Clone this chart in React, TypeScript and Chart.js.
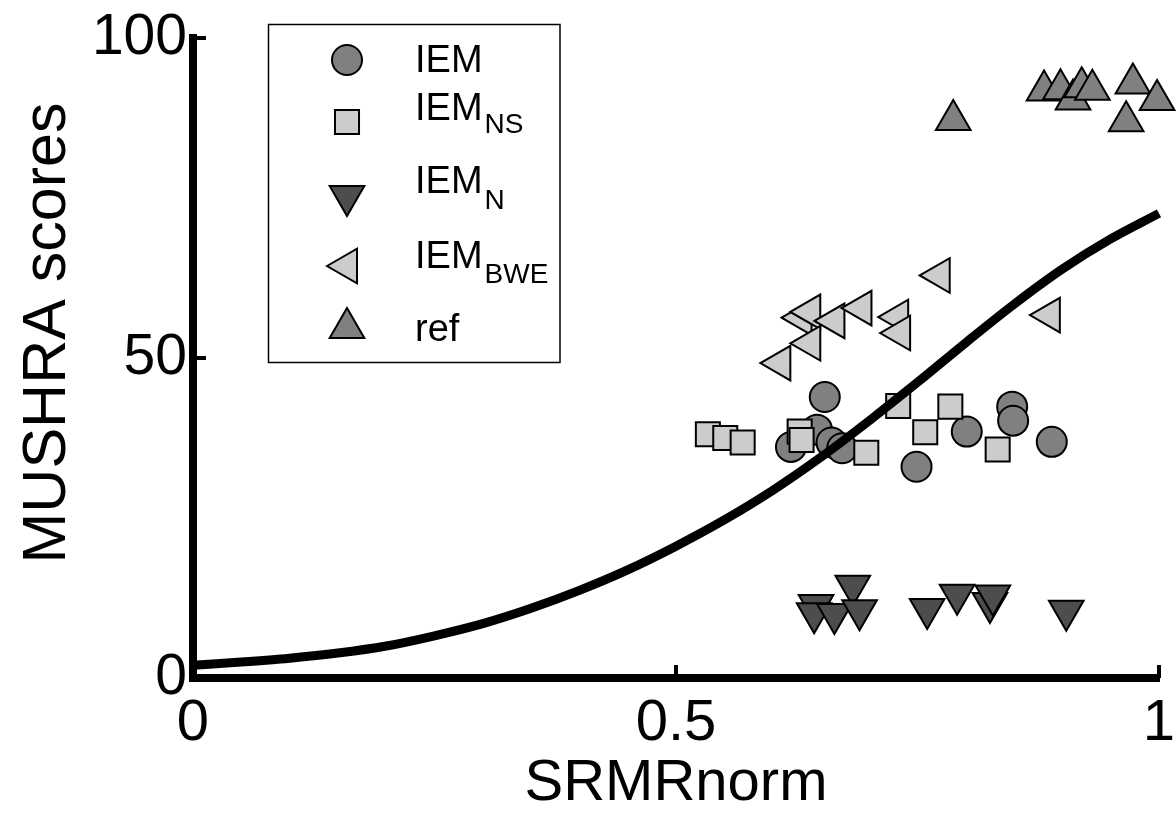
import React, { useEffect, useRef } from 'react';
import { Chart, registerables } from 'chart.js';

Chart.register(...registerables);

// ---------- data ----------
const curveX = [0, 0.05, 0.1, 0.15, 0.2, 0.25, 0.3, 0.35, 0.4, 0.45, 0.5, 0.55, 0.6, 0.65, 0.7, 0.75, 0.8, 0.85, 0.9, 0.95, 1.0];
const curveY = [2.0, 2.5, 3.1, 3.9, 5.0, 6.6, 8.5, 10.9, 13.7, 16.9, 20.6, 24.7, 29.3, 34.5, 40.2, 46.2, 52.4, 58.4, 63.9, 68.6, 72.6];

const iemX = [0.654, 0.646, 0.619, 0.661, 0.672, 0.749, 0.801, 0.848, 0.849, 0.889];
const iemY = [43.9, 38.8, 36.1, 36.8, 35.9, 33.0, 38.5, 42.4, 40.2, 36.9];

const iemNsX = [0.533, 0.551, 0.569, 0.628, 0.630, 0.697, 0.730, 0.758, 0.784, 0.833];
const iemNsY = [38.1, 37.5, 36.8, 38.5, 37.2, 35.2, 42.5, 38.4, 42.4, 35.7];

const iemNX = [0.645, 0.643, 0.683, 0.664, 0.690, 0.760, 0.791, 0.825, 0.828, 0.904];
const iemNY = [11.4, 10.1, 14.4, 10.0, 10.6, 10.8, 13.0, 11.7, 12.9, 10.5];

const iemBweX = [0.630, 0.639, 0.664, 0.692, 0.730, 0.732, 0.639, 0.608, 0.887, 0.773];
const iemBweY = [56.3, 57.2, 55.8, 57.8, 56.4, 53.9, 52.3, 49.2, 56.7, 62.9];

const refX = [0.787, 0.881, 0.898, 0.911, 0.920, 0.931, 0.973, 0.998, 0.966];
const refY = [87.2, 91.8, 92.0, 90.4, 92.3, 91.9, 92.9, 90.3, 87.0];

const xTickValues = [0, 0.5, 1];
const xTickLabels = ['0', '0.5', '1'];
const yTickValues = [0, 50, 100];
const yTickLabels = ['0', '50', '100'];

const xTitle = 'SRMRnorm';
const yTitle = 'MUSHRA scores';

const legendMain = ['IEM', 'IEM', 'IEM', 'IEM', 'ref'];
const legendSub = ['', 'NS', 'N', 'BWE', ''];

// ---------- styles ----------
const FONT = '"Liberation Sans", Arial, Helvetica, sans-serif';
const C_IEM = '#808080';
const C_NS = '#cccccc';
const C_N = '#4d4d4d';
const C_BWE = '#cccccc';
const C_REF = '#808080';

type MarkerSpec = { style: string; fill: string; radius: number; rotation: number };
const markers: MarkerSpec[] = [
  { style: 'circle', fill: C_IEM, radius: 15, rotation: 0 },
  { style: 'rect', fill: C_NS, radius: 17, rotation: 0 },
  { style: 'triangle', fill: C_N, radius: 20, rotation: 180 },
  { style: 'triangle', fill: C_BWE, radius: 20, rotation: 270 },
  { style: 'triangle', fill: C_REF, radius: 20, rotation: 0 },
];

function zip(xs: number[], ys: number[]) {
  return xs.map((x, i) => ({ x, y: ys[i] }));
}

function drawMarker(ctx: CanvasRenderingContext2D, m: MarkerSpec, x: number, y: number) {
  ctx.save();
  ctx.fillStyle = m.fill;
  ctx.strokeStyle = '#000';
  ctx.lineWidth = 2;
  ctx.beginPath();
  if (m.style === 'circle') {
    ctx.arc(x, y, m.radius, 0, Math.PI * 2);
  } else if (m.style === 'rect') {
    const s = Math.SQRT1_2 * m.radius;
    ctx.rect(x - s, y - s, 2 * s, 2 * s);
  } else {
    const rot = (m.rotation * Math.PI) / 180;
    for (let k = 0; k < 3; k++) {
      const a = rot + (k * 2 * Math.PI) / 3;
      const px = x + Math.sin(a) * m.radius;
      const py = y - Math.cos(a) * m.radius;
      if (k === 0) ctx.moveTo(px, py);
      else ctx.lineTo(px, py);
    }
    ctx.closePath();
  }
  ctx.fill();
  ctx.stroke();
  ctx.restore();
}

const decorPlugin = {
  id: 'decor',
  afterDraw(chart: any) {
    const ctx: CanvasRenderingContext2D = chart.ctx;
    const xs = chart.scales.x;
    const ys = chart.scales.y;
    const area = chart.chartArea;
    ctx.save();
    // inward tick marks
    ctx.strokeStyle = '#000';
    ctx.lineWidth = 4;
    xTickValues.forEach((v) => {
      if (v === xs.min) return;
      const px = xs.getPixelForValue(v);
      ctx.beginPath();
      ctx.moveTo(px, area.bottom);
      ctx.lineTo(px, area.bottom - 13);
      ctx.stroke();
    });
    yTickValues.forEach((v) => {
      if (v === ys.min) return;
      const py = ys.getPixelForValue(v);
      ctx.beginPath();
      ctx.moveTo(area.left, py);
      ctx.lineTo(area.left + 13, py);
      ctx.stroke();
    });

    // axis titles
    ctx.fillStyle = '#000';
    ctx.font = `58px ${FONT}`;
    ctx.textAlign = 'center';
    ctx.textBaseline = 'alphabetic';
    ctx.fillText(xTitle, (area.left + area.right) / 2, 800);
    ctx.save();
    ctx.translate(65, 333);
    ctx.rotate(-Math.PI / 2);
    ctx.font = `61px ${FONT}`;
    ctx.fillText(yTitle, 0, 0);
    ctx.restore();

    // legend
    const boxL = 268.5, boxT = 24.5, boxR = 560, boxB = 362.5;
    ctx.fillStyle = '#fff';
    ctx.fillRect(boxL, boxT, boxR - boxL, boxB - boxT);
    ctx.strokeStyle = '#000';
    ctx.lineWidth = 1.5;
    ctx.strokeRect(boxL, boxT, boxR - boxL, boxB - boxT);
    const rowMarkerY = [60, 122, 196, 266, 328];
    const rowBase = [72, 120, 193, 268, 341];
    const subBase = [0, 133, 209, 283, 0];
    for (let i = 0; i < legendMain.length; i++) {
      drawMarker(ctx, markers[i], 347, rowMarkerY[i]);
      ctx.fillStyle = '#000';
      ctx.textAlign = 'left';
      ctx.textBaseline = 'alphabetic';
      ctx.font = `38px ${FONT}`;
      ctx.fillText(legendMain[i], 415, rowBase[i]);
      if (legendSub[i]) {
        const w = ctx.measureText(legendMain[i]).width;
        ctx.font = `28px ${FONT}`;
        ctx.fillText(legendSub[i], 415 + w + 2, subBase[i]);
      }
    }
    ctx.restore();
  },
};

export default function App() {
  const ref = useRef<HTMLCanvasElement | null>(null);
  useEffect(() => {
    document.body.style.margin = '0';
    document.body.style.overflow = 'hidden';
    const canvas = ref.current;
    if (!canvas) return;
    const mk = (label: string, data: any[], m: MarkerSpec) => ({
      label,
      data,
      showLine: false,
      pointStyle: m.style,
      pointRadius: m.radius,
      pointRotation: m.rotation,
      pointBackgroundColor: m.fill,
      pointBorderColor: '#000',
      pointBorderWidth: 2,
      pointHoverRadius: m.radius,
      clip: false as any,
    });
    const chart = new Chart(canvas, {
      type: 'scatter',
      data: {
        datasets: [
          {
            label: 'fit',
            data: zip(curveX, curveY),
            showLine: true,
            borderColor: '#000',
            borderWidth: 9,
            pointRadius: 0,
            pointHoverRadius: 0,
            cubicInterpolationMode: 'monotone',
            fill: false,
            clip: false as any,
          } as any,
          mk('ref', zip(refX, refY), markers[4]),
          mk('IEM_BWE', zip(iemBweX, iemBweY), markers[3]),
          mk('IEM_N', zip(iemNX, iemNY), markers[2]),
          mk('IEM_NS', zip(iemNsX, iemNsY), markers[1]),
          mk('IEM', zip(iemX, iemY), markers[0]),
        ],
      },
      options: {
        responsive: false,
        animation: false,
        devicePixelRatio: 1,
        layout: { autoPadding: false, padding: { left: 0, right: 17, top: 38, bottom: 0 } },
        plugins: { legend: { display: false }, tooltip: { enabled: false } },
        scales: {
          x: {
            type: 'linear',
            min: 0,
            max: 1,
            afterBuildTicks: (s: any) => {
              s.ticks = xTickValues.map((v) => ({ value: v }));
            },
            afterFit: (s: any) => {
              s.height = 141;
              s.paddingLeft = 0;
              s.paddingRight = 0;
            },
            ticks: {
              callback: (v: any) => xTickLabels[xTickValues.indexOf(Number(v))],
              font: { family: FONT, size: 58 },
              color: '#000',
              padding: 11,
              maxRotation: 0,
              autoSkip: false,
            },
            grid: { drawOnChartArea: false, drawTicks: false },
            border: { display: true, width: 8, color: '#000' },
          },
          y: {
            type: 'linear',
            min: 0,
            max: 100,
            afterBuildTicks: (s: any) => {
              s.ticks = yTickValues.map((v) => ({ value: v }));
            },
            afterFit: (s: any) => {
              s.width = 193;
              s.paddingTop = 0;
              s.paddingBottom = 0;
            },
            ticks: {
              callback: (v: any) => yTickLabels[yTickValues.indexOf(Number(v))],
              font: { family: FONT, size: 57 },
              color: '#000',
              padding: 6,
              autoSkip: false,
            },
            grid: { drawOnChartArea: false, drawTicks: false },
            border: { display: true, width: 8, color: '#000' },
          },
        },
      } as any,
      plugins: [decorPlugin],
    });
    return () => chart.destroy();
  }, []);
  return (
    <div style={{ width: 1176, height: 819, background: '#fff' }}>
      <canvas ref={ref} width={1176} height={819} style={{ display: 'block' }} />
    </div>
  );
}
